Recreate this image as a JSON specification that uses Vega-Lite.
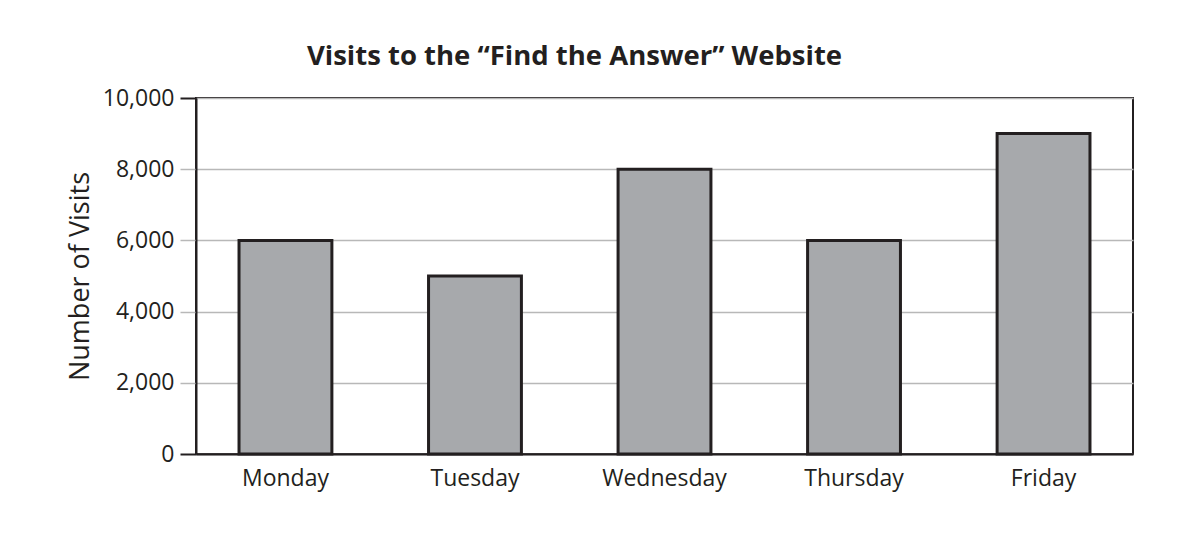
{
  "$schema": "https://vega.github.io/schema/vega-lite/v6.json",
  "width": 937,
  "height": 356,
  "autosize": "none",
  "padding": {"left": 196, "top": 98, "right": 51, "bottom": 88},
  "background": "white",
  "config": {
    "view": {"stroke": "#231f20", "strokeWidth": 2},
    "font": "Open Sans"
  },
  "title": {
    "text": "Visits to the \u201cFind the Answer\u201d Website",
    "fontSize": 27.5,
    "fontWeight": "bold",
    "font": "Open Sans",
    "color": "#231f20",
    "anchor": "middle",
    "dx": -90,
    "offset": 17
  },
  "data": {
    "values": [
      {"day": "Monday", "visits": 6000},
      {"day": "Tuesday", "visits": 5000},
      {"day": "Wednesday", "visits": 8000},
      {"day": "Thursday", "visits": 6000},
      {"day": "Friday", "visits": 9000}
    ]
  },
  "mark": {"type": "bar", "fill": "#a7a9ac", "stroke": "#231f20", "strokeWidth": 3},
  "encoding": {
    "x": {
      "field": "day",
      "type": "nominal",
      "sort": null,
      "scale": {"paddingInner": 0.51, "paddingOuter": 0.227},
      "axis": {
        "title": null,
        "labelAngle": 0,
        "ticks": false,
        "labelFontSize": 23,
        "labelColor": "#231f20",
        "labelPadding": 13,
        "domainColor": "#231f20",
        "domainWidth": 2
      }
    },
    "y": {
      "field": "visits",
      "type": "quantitative",
      "scale": {"domain": [0, 10000], "nice": false},
      "axis": {
        "title": "Number of Visits",
        "titleFontSize": 27,
        "titleFontWeight": "normal",
        "titleColor": "#231f20",
        "titlePadding": 8,
        "format": ",.0f",
        "values": [0, 2000, 4000, 6000, 8000, 10000],
        "labelFontSize": 23,
        "labelColor": "#231f20",
        "labelPadding": 6,
        "tickSize": 16,
        "tickColor": {"condition": {"test": "datum.value == 10000 || datum.value == 0", "value": "#231f20"}, "value": "#b8b8b8"},
        "tickWidth": {"condition": {"test": "datum.value == 10000 || datum.value == 0", "value": 2}, "value": 1.5},
        "gridColor": "#b8b8b8",
        "gridWidth": 1.5,
        "domainColor": "#231f20",
        "domainWidth": 2
      }
    }
  }
}
